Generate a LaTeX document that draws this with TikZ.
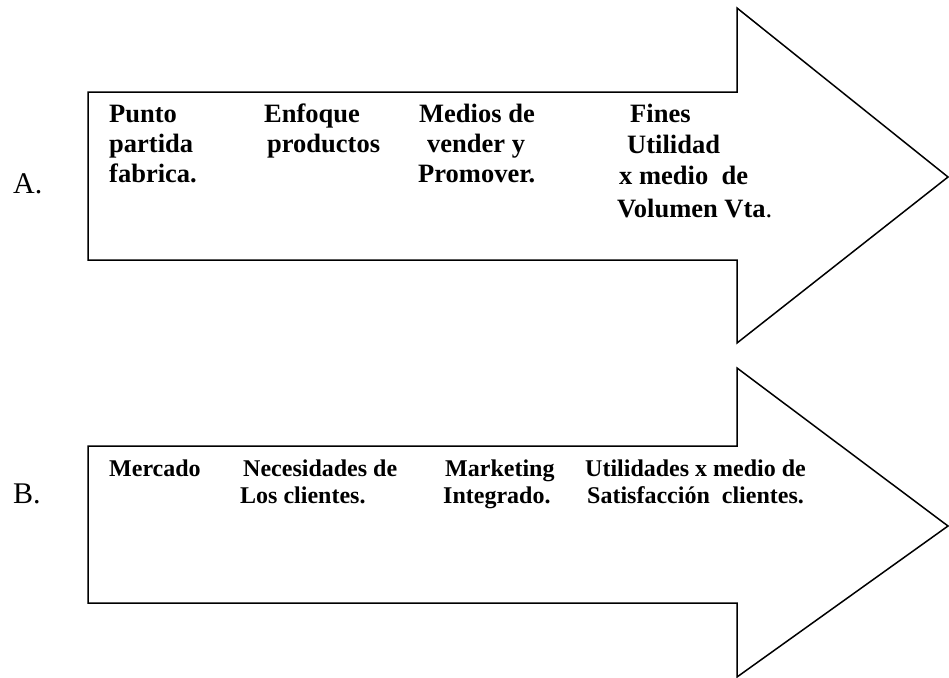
\documentclass[tikz,border=0pt]{standalone}
\usepackage{fontspec}
\setmainfont{Liberation Serif}
\begin{document}
\begin{tikzpicture}[x=1pt,y=-1pt,
  arrowshape/.style={draw=black,line width=1.5pt,line join=miter,fill=white},
  txta/.style={anchor=base west,inner sep=0pt,font=\bfseries\fontsize{26.5}{30}\selectfont},
  txtb/.style={anchor=base west,inner sep=0pt,font=\bfseries\fontsize{24}{28}\selectfont},
  lbl/.style={anchor=base west,inner sep=0pt,font=\fontsize{30}{34}\selectfont}]
\useasboundingbox (0,0) rectangle (949,677);
% Arrow A
\draw[arrowshape] (88,92) -- (737,92) -- (737,8) -- (948,177) -- (737,343) -- (737,260) -- (88,260) -- cycle;
% Arrow B
\draw[arrowshape] (88,446) -- (737,446) -- (737,368) -- (948,526) -- (737,677) -- (737,603) -- (88,603) -- cycle;
% Labels
\node[lbl] (la) at (13,193) {A.};
\node[lbl] (lb) at (13,503) {B.};
% Texts A
\node[txta] (a11) at (109,122) {Punto};
\node[txta] (a12) at (109,152) {partida};
\node[txta] (a13) at (109,182) {fabrica.};
\node[txta] (a21) at (264,122) {Enfoque};
\node[txta] (a22) at (267,152) {productos};
\node[txta] (a31) at (419,122) {Medios de};
\node[txta] (a32) at (427,152) {vender y};
\node[txta] (a33) at (418,182) {Promover.};
\node[txta] (a41) at (630,122) {Fines};
\node[txta] (a42) at (627,153) {Utilidad};
\node[txta] (a43) at (619,184) {x medio\ \ de};
\node[txta] (a44) at (617,217) {Volumen Vta\textmd{.}};
% Texts B
\node[txtb] (b11) at (109,476) {Mercado};
\node[txtb] (b21) at (243,476) {Necesidades de};
\node[txtb] (b22) at (240,503) {Los clientes.};
\node[txtb] (b31) at (445,476) {Marketing};
\node[txtb] (b32) at (443,503) {Integrado.};
\node[txtb] (b41) at (585,476) {Utilidades x medio de};
\node[txtb] (b42) at (587,503) {Satisfacción\ \ clientes.};
\end{tikzpicture}
\end{document}
